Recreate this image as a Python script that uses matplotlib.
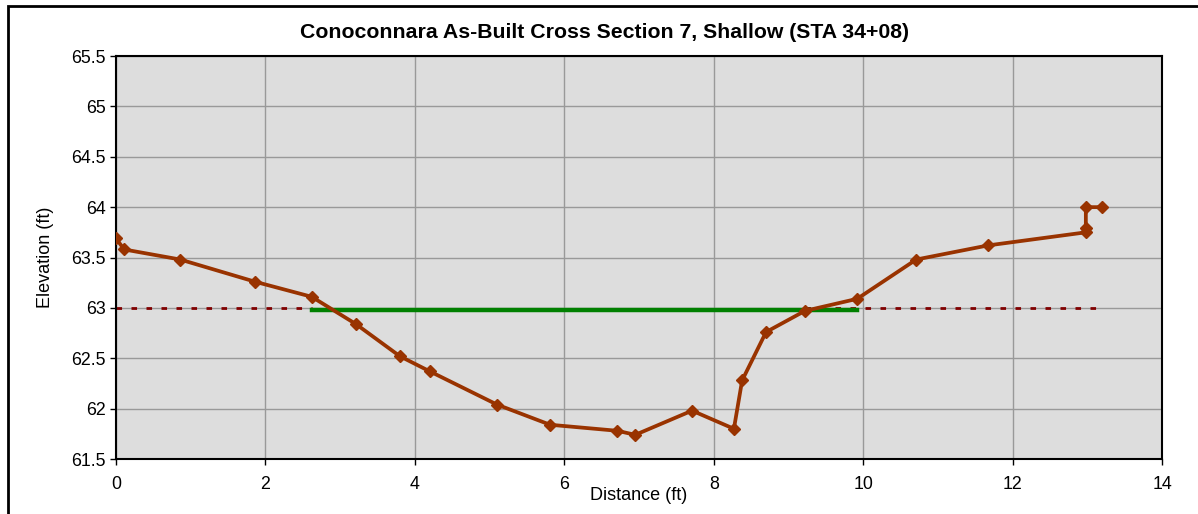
import matplotlib
matplotlib.use("Agg")
import matplotlib.pyplot as plt
from matplotlib.patches import Rectangle

plt.rcParams['font.family'] = ['Liberation Sans', 'DejaVu Sans']

# Cross section survey points
distance = [0.0, 0.11, 0.86, 1.86, 2.62, 3.21, 3.80, 4.20, 5.10, 5.81, 6.71, 6.95,
            7.71, 8.27, 8.38, 8.70, 9.22, 9.92, 10.71, 11.67, 12.98, 12.98, 12.98, 13.19]
elevation = [63.69, 63.58, 63.48, 63.26, 63.11, 62.84, 62.52, 62.37, 62.04, 61.84, 61.78, 61.74,
             61.98, 61.80, 62.28, 62.76, 62.97, 63.09, 63.48, 63.62, 63.75, 63.79, 64.00, 64.00]

# Bankfull line and reference level (gap where the bankfull line sits)
bankfull_x = [2.62, 9.92]
bankfull_y = [62.98, 62.98]
ref_x = [0.0, 2.62, float('nan'), 9.22, 13.19]
ref_y = [63.0, 63.0, float('nan'), 63.0, 63.0]

fig = plt.figure(figsize=(11.98, 5.14), dpi=100)
ax = fig.add_axes([0.0968, 0.107, 0.8732, 0.784])

ax.set_facecolor('#DDDDDD')
ax.plot(ref_x, ref_y, color='#800000', lw=2, dashes=(2, 3.4), zorder=2)
ax.plot(bankfull_x, bankfull_y, color='#008000', lw=3.2, zorder=3)
ax.plot(distance, elevation, color='#993300', lw=2.7, marker='D', markersize=6.5,
        markeredgecolor='#993300', zorder=4)

ax.set_xlim(0, 14)
ax.set_ylim(61.5, 65.5)
ax.set_xticks(range(0, 15, 2))
ax.set_yticks([61.5, 62, 62.5, 63, 63.5, 64, 64.5, 65, 65.5])
ax.set_yticklabels(['61.5', '62', '62.5', '63', '63.5', '64', '64.5', '65', '65.5'])
ax.grid(True, color='#999999', lw=1)
ax.set_axisbelow(True)
for s in ax.spines.values():
    s.set_color('black')
    s.set_linewidth(1.5)
ax.tick_params(labelsize=12.8, length=4, width=1, direction='out')
ax.tick_params(axis='x', pad=8)

ax.set_xlabel('Distance (ft)', fontsize=13, labelpad=-4)
ax.set_ylabel('Elevation (ft)', fontsize=13, labelpad=12)
fig.text(0.505, 0.937, 'Conoconnara As-Built Cross Section 7, Shallow (STA 34+08)',
         fontsize=15.3, fontweight='bold', ha='center', va='center')

fig.patches.append(Rectangle((0.0065, -0.02), 1.1, 1.008, transform=fig.transFigure,
                             fill=False, edgecolor='black', lw=2))

fig.savefig('out.png', dpi=100)
